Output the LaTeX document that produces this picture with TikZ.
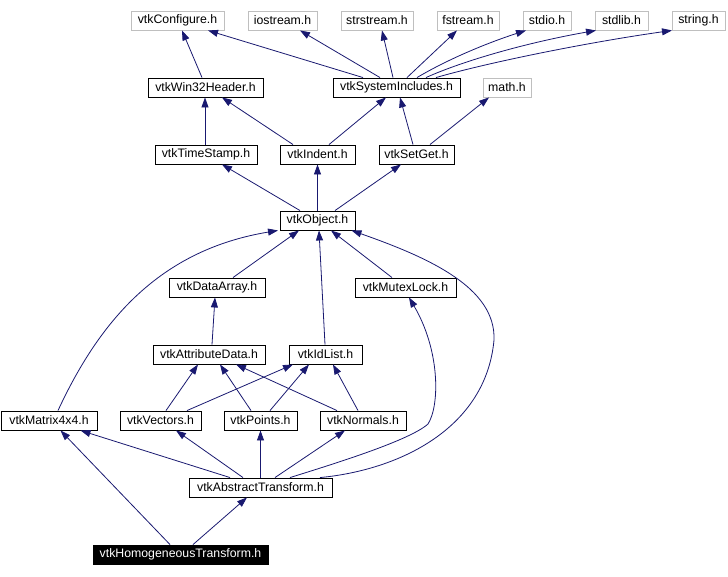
\documentclass[tikz,border=0pt]{standalone}
\usepackage{fontspec}
\setmainfont{Liberation Sans}
\usetikzlibrary{arrows.meta}
\definecolor{edgeblue}{HTML}{191970}
\definecolor{hdrgray}{HTML}{BFBFBF}
\tikzset{
  box/.style={draw=black, line width=0.9pt, minimum height=19pt, inner sep=0pt, font=\fontsize{12.3}{14}\selectfont, text=black},
  hdr/.style={box, draw=hdrgray},
  rootbox/.style={box, fill=black, text=white},
  edge/.style={draw=edgeblue, line width=0.8pt, -{Triangle[length=10pt,width=7pt]}}
}
\begin{document}
\begin{tikzpicture}[x=1pt,y=-1pt]
\useasboundingbox (0,0) rectangle (728,576);
% row 1
\node[hdr, minimum width=93pt] (conf) at (177.5,20.5) {vtkConfigure.h};
\node[hdr, minimum width=69pt] (iostream) at (282.5,20.5) {iostream.h};
\node[hdr, minimum width=72pt] (strstream) at (377,20.5) {strstream.h};
\node[hdr, minimum width=62pt] (fstream) at (468,20.5) {fstream.h};
\node[hdr, minimum width=48pt] (stdio) at (547,20.5) {stdio.h};
\node[hdr, minimum width=53pt] (stdlib) at (621.5,20.5) {stdlib.h};
\node[hdr, minimum width=53pt] (string) at (698.5,20.5) {string.h};
% row 2
\node[box, minimum width=115pt] (win32) at (205.5,87.5) {vtkWin32Header.h};
\node[box, minimum width=127pt] (sysinc) at (396.5,87.5) {vtkSystemIncludes.h};
\node[hdr, minimum width=48pt] (math) at (507,87.5) {math.h};
% row 3
\node[box, minimum width=102pt] (timestamp) at (206,154.5) {vtkTimeStamp.h};
\node[box, minimum width=75pt] (indent) at (317.5,154.5) {vtkIndent.h};
\node[box, minimum width=75pt] (setget) at (416.5,154.5) {vtkSetGet.h};
% row 4
\node[box, minimum width=75pt] (object) at (317.5,220.5) {vtkObject.h};
% row 5
\node[box, minimum width=96pt] (dataarray) at (217,287.5) {vtkDataArray.h};
\node[box, minimum width=101pt] (mutex) at (405.5,287.5) {vtkMutexLock.h};
% row 6
\node[box, minimum width=112pt] (attr) at (209,354.5) {vtkAttributeData.h};
\node[box, minimum width=73pt] (idlist) at (325.5,354.5) {vtkIdList.h};
% row 7
\node[box, minimum width=96pt] (matrix) at (49,420.5) {vtkMatrix4x4.h};
\node[box, minimum width=81pt] (vectors) at (160.5,420.5) {vtkVectors.h};
\node[box, minimum width=73pt] (points) at (260.5,420.5) {vtkPoints.h};
\node[box, minimum width=86pt] (normals) at (363,420.5) {vtkNormals.h};
% row 8
\node[box, minimum width=143pt] (abstract) at (260.5,487.5) {vtkAbstractTransform.h};
% row 9
\node[rootbox, minimum width=175pt] (homog) at (180.5,554.5) {vtkHomogeneousTransform.h};

% edges
\draw[edge] ([xshift=-3.5pt]win32.north) -- ([xshift=4.5pt]conf.south);
\draw[edge] ([xshift=-33.5pt]sysinc.north) -- ([xshift=30.5pt]conf.south);
\draw[edge] ([xshift=-16.5pt]sysinc.north) -- ([xshift=17.5pt]iostream.south);
\draw[edge] ([xshift=-3.5pt]sysinc.north) -- ([xshift=5pt]strstream.south);
\draw[edge] ([xshift=10.5pt]sysinc.north) -- ([xshift=-11pt]fstream.south);
\draw[edge] ([xshift=20.5pt]sysinc.north) .. controls (450,58) and (490,42) .. ([xshift=-21pt]stdio.south);
\draw[edge] ([xshift=29.5pt]sysinc.north) .. controls (465,60) and (530,42) .. ([xshift=-25.5pt]stdlib.south);
\draw[edge] ([xshift=39.5pt]sysinc.north) .. controls (490,62) and (590,42) .. ([xshift=-26.5pt]string.south);

\draw[edge] ([xshift=-1pt]timestamp.north) -- ([xshift=-0.5pt]win32.south);
\draw[edge] ([xshift=-24.5pt]indent.north) -- ([xshift=16.5pt]win32.south);
\draw[edge] ([xshift=11.5pt]indent.north) -- ([xshift=-10.5pt]sysinc.south);
\draw[edge] ([xshift=-3.5pt]setget.north) -- ([xshift=3.5pt]sysinc.south);
\draw[edge] ([xshift=13.5pt]setget.north) -- ([xshift=-18pt]math.south);

\draw[edge] ([xshift=-17.5pt]object.north) -- ([xshift=16pt]timestamp.south);
\draw[edge] (object.north) -- (indent.south);
\draw[edge] ([xshift=17.5pt]object.north) -- ([xshift=-15.5pt]setget.south);

\draw[edge] ([xshift=9pt]matrix.north) .. controls (100,320) and (160,250) .. ([xshift=-39.5pt]object.south);
\draw[edge] ([xshift=16pt]dataarray.north) -- ([xshift=-18.5pt]object.south);
\draw[edge] ([xshift=-0.5pt]idlist.north) -- ([xshift=1.5pt]object.south);
\draw[edge] ([xshift=-13.5pt]mutex.north) -- ([xshift=13.5pt]object.south);
\draw[edge] ([xshift=59.5pt]abstract.north) .. controls (400,470) and (486,428) .. (494,340)
   .. controls (496,288) and (430,258) .. ([xshift=34pt]object.south);

\draw[edge] ([xshift=3pt]attr.north) -- ([xshift=-2pt]dataarray.south);
\draw[edge] ([xshift=5.5pt]vectors.north) -- ([xshift=-11pt]attr.south);
\draw[edge] ([xshift=26.5pt]vectors.north) -- ([xshift=-32.5pt]idlist.south);
\draw[edge] ([xshift=-9.5pt]points.north) -- ([xshift=11pt]attr.south);
\draw[edge] ([xshift=9.5pt]points.north) -- ([xshift=-16.5pt]idlist.south);
\draw[edge] ([xshift=-26pt]normals.north) -- ([xshift=27pt]attr.south);
\draw[edge] ([xshift=-5pt]normals.north) -- ([xshift=7.5pt]idlist.south);

\draw[edge] ([xshift=29.5pt]abstract.north) .. controls (340,462) and (410,440) .. (428,424)
   .. controls (440,405) and (440,350) .. ([xshift=3.5pt]mutex.south);
\draw[edge] ([xshift=14.5pt]abstract.north) -- ([xshift=-18pt]normals.south);
\draw[edge] (abstract.north) -- (points.south);
\draw[edge] ([xshift=-17.5pt]abstract.north) -- ([xshift=15.5pt]vectors.south);
\draw[edge] ([xshift=-30.5pt]abstract.north) -- ([xshift=31.5pt]matrix.south);

\draw[edge] ([xshift=-10.5pt]homog.north) -- ([xshift=11.5pt]matrix.south);
\draw[edge] ([xshift=12.5pt]homog.north) -- ([xshift=-13.5pt]abstract.south);
\end{tikzpicture}
\end{document}
